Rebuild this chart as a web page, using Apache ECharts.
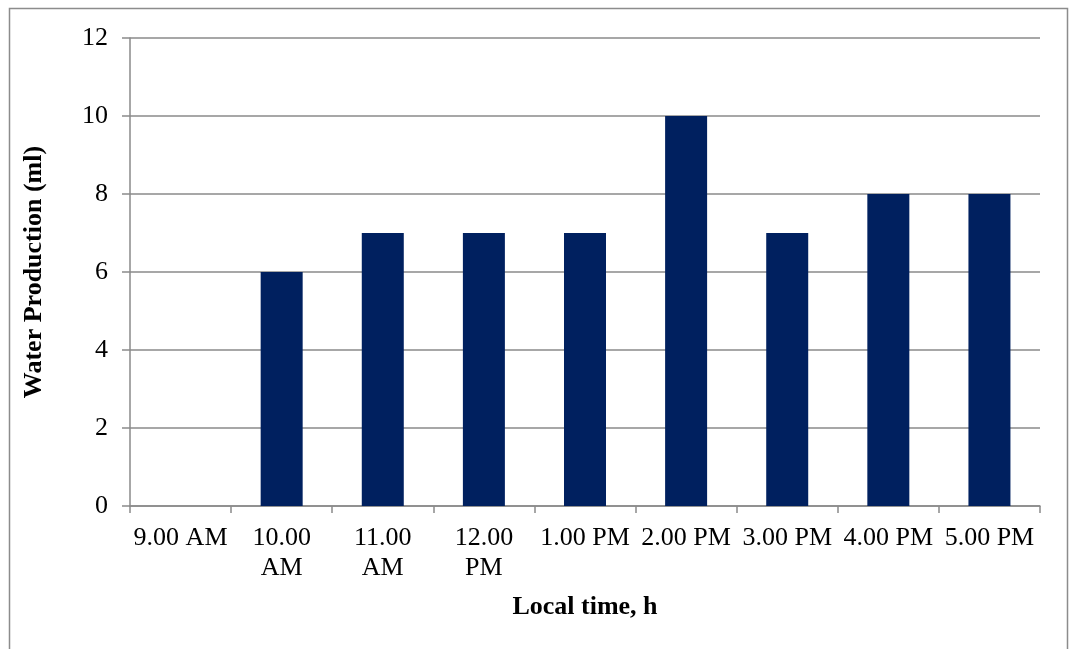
<!DOCTYPE html>
<html>
<head>
<meta charset="utf-8">
<script src="https://cdn.jsdelivr.net/npm/echarts@6/dist/echarts.min.js"></script>
<style>
  html, body { margin: 0; padding: 0; background: #ffffff; }
  #chart { width: 1069px; height: 649px; }
</style>
</head>
<body>
<div id="chart"></div>
<script>
// Hourly readings, local time
const timeLabels = ['9.00 AM', '10.00\nAM', '11.00\nAM', '12.00\nPM', '1.00 PM', '2.00 PM', '3.00 PM', '4.00 PM', '5.00 PM'];
const waterProduction = [0, 6, 7, 7, 7, 10, 7, 8, 8];

const yMin = 0, yMax = 12, yStep = 2;

const serif = '"Liberation Serif", "Times New Roman", serif';
const gridGray = '#8a8a8a';

const chart = echarts.init(document.getElementById('chart'), null, { renderer: 'canvas' });

chart.setOption({
  backgroundColor: '#ffffff',
  animation: false,
  graphic: [{
    type: 'rect',
    shape: { x: 9.5, y: 8.5, width: 1058, height: 700 },
    style: { fill: 'none', stroke: '#8c8c8c', lineWidth: 1.5 },
    silent: true
  }],
  grid: { left: 130, right: 29, top: 38, bottom: 143 },
  xAxis: {
    type: 'category',
    data: timeLabels,
    boundaryGap: true,
    name: 'Local time, h',
    nameLocation: 'middle',
    nameGap: 88,
    nameTextStyle: { fontFamily: serif, fontSize: 26, fontWeight: 'bold', color: '#000' },
    axisLine: { lineStyle: { color: gridGray, width: 1.5 } },
    axisTick: { show: true, alignWithLabel: false, length: 7, lineStyle: { color: gridGray, width: 1.5 } },
    axisLabel: {
      interval: 0,
      margin: 17,
      fontFamily: serif,
      fontSize: 26,
      lineHeight: 30,
      color: '#000'
    },
    splitLine: { show: false }
  },
  yAxis: {
    type: 'value',
    min: yMin,
    max: yMax,
    interval: yStep,
    name: 'Water Production (ml)',
    nameLocation: 'middle',
    nameGap: 83,
    nameRotate: 90,
    nameTextStyle: { fontFamily: serif, fontSize: 26, fontWeight: 'bold', color: '#000' },
    axisLine: { show: true, lineStyle: { color: gridGray, width: 1.5 } },
    axisTick: { show: true, length: 8, lineStyle: { color: gridGray, width: 1.5 } },
    axisLabel: { margin: 22, fontFamily: serif, fontSize: 26, color: '#000' },
    splitLine: { show: true, lineStyle: { color: gridGray, width: 1.5 } }
  },
  series: [{
    type: 'bar',
    data: waterProduction,
    barWidth: 42,
    itemStyle: { color: '#00205f' },
    z: 3
  }]
});
</script>
</body>
</html>
